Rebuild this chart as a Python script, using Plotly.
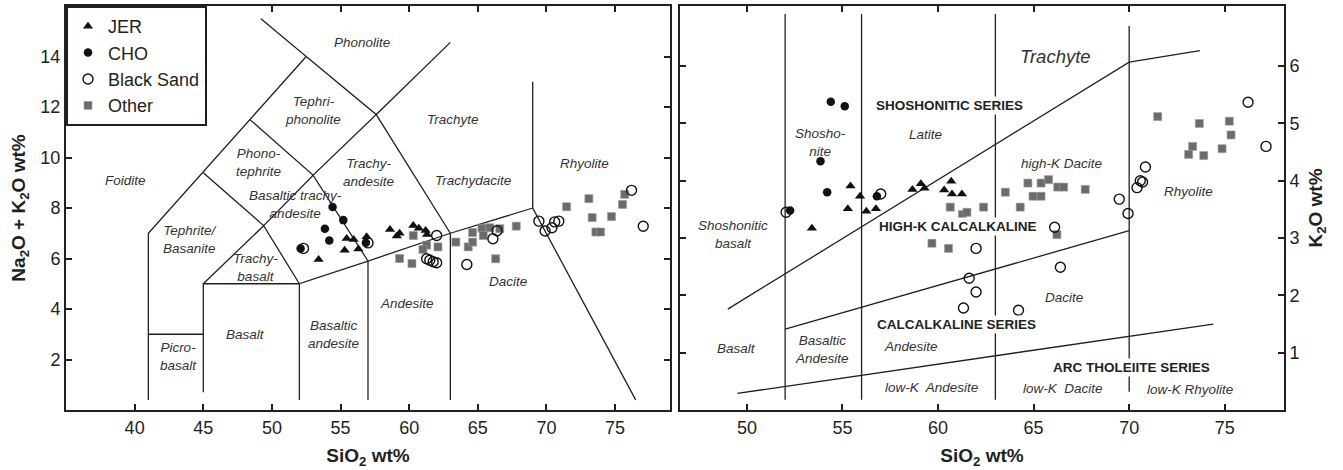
import plotly.graph_objects as go

# ---------------- DATA ----------------
# TAS diagram (left): SiO2 vs Na2O+K2O
tas_jer_sio2 = [53.4, 55.3, 55.45, 55.95, 56.3, 56.9, 58.6, 59.1, 59.3, 60.3, 60.7, 61.2, 61.3]
tas_jer_alk = [5.96, 6.33, 6.79, 6.75, 6.38, 6.86, 7.15, 6.89, 7.0, 7.31, 7.2, 7.11, 6.95]

tas_cho_sio2 = [54.42, 55.2, 53.86, 54.18, 52.09, 56.85]
tas_cho_alk = [8.04, 7.52, 7.18, 6.71, 6.4, 6.62]

tas_bs_sio2 = [52.3, 57.0, 61.27, 61.5, 61.75, 62.0, 62.0, 64.2, 66.1, 66.4, 69.45, 69.9, 70.4, 70.6, 70.9, 76.2, 77.05]
tas_bs_alk = [6.4, 6.62, 5.99, 5.93, 5.87, 5.83, 6.91, 5.76, 6.78, 7.1, 7.48, 7.09, 7.22, 7.45, 7.48, 8.7, 7.28]

tas_oth_sio2 = [59.3, 60.2, 60.3, 61.27, 61.0, 62.1, 63.4, 64.3, 64.62, 64.62, 65.3, 65.88, 65.4, 66.6,
                66.3, 67.8, 71.47, 73.09, 73.33, 74.74, 73.6, 73.94, 75.54, 75.7]
tas_oth_alk = [6.0, 5.8, 6.91, 6.53, 6.36, 6.46, 6.65, 6.46, 6.65, 7.03, 7.2, 7.22, 6.91, 7.18,
               5.99, 7.28, 8.05, 8.37, 7.62, 7.66, 7.05, 7.05, 8.14, 8.54]

# SiO2 vs K2O (right)
k_jer_sio2 = [55.42, 55.92, 55.28, 56.25, 56.75, 53.4, 58.66, 59.1, 59.29, 60.32, 60.69, 60.73, 61.25]
k_jer_k2o = [3.91, 3.73, 3.51, 3.47, 3.51, 3.17, 3.85, 3.95, 3.87, 3.84, 3.99, 3.77, 3.77]

k_cho_sio2 = [54.39, 55.12, 53.85, 54.2, 56.8, 52.26]
k_cho_k2o = [5.38, 5.3, 4.34, 3.8, 3.73, 3.48]

k_bs_sio2 = [52.05, 57.0, 61.99, 61.63, 61.99, 61.33, 64.21, 66.1, 66.4, 69.48, 69.94, 70.41, 70.58, 70.7,
             70.85, 76.22, 77.16]
k_bs_k2o = [3.45, 3.77, 2.82, 2.3, 2.06, 1.78, 1.74, 3.19, 2.49, 3.68, 3.43, 3.88, 4.0, 3.98, 4.24, 5.37, 4.6]

k_oth_sio2 = [59.68, 60.55, 60.64, 61.28, 61.51, 62.38, 63.52, 64.3, 64.7, 64.97, 65.39, 65.39, 65.78,
              66.26, 66.57, 67.7, 66.22, 71.49, 73.67, 73.32, 73.11, 73.9, 74.86, 75.24, 75.33]
k_oth_k2o = [2.91, 2.82, 3.54, 3.41, 3.45, 3.54, 3.8, 3.54, 3.96, 3.73, 3.96, 3.73, 4.02,
             3.89, 3.89, 3.85, 3.06, 5.12, 5.0, 4.6, 4.46, 4.44, 4.56, 5.04, 4.8]

# Diagram boundaries (data coordinates)
tas_lines = [
    [(41, 0.4), (41, 7), (52.5, 14), (49.2, 15.5)],
    [(41, 3), (45, 3)],
    [(45, 0.7), (45, 5), (52, 5)],
    [(45, 5), (49.4, 7.3), (52, 5)],
    [(52, 0.4), (52, 5), (57, 5.9), (63, 7), (69, 8)],
    [(57, 0.4), (57, 5.9)],
    [(63, 0.4), (63, 7)],
    [(69, 13), (69, 8), (76.5, 0.4)],
    [(45, 9.4), (49.4, 7.3), (53, 9.3), (57, 5.9)],
    [(48.4, 11.5), (53, 9.3), (57.6, 11.7), (63, 7)],
    [(52.5, 14), (57.6, 11.7), (63, 14.56)],
]
k_lines = [
    [(52, 0.18), (52, 6.91)],
    [(56, 0.18), (56, 6.91)],
    [(63, 0.18), (63, 6.91)],
    [(70, 0.32), (70, 6.7)],
    [(49.0, 1.76), (70, 6.07), (73.7, 6.27)],
    [(52, 1.41), (70, 3.13)],
    [(49.5, 0.29), (74.4, 1.5)],
]

tas_labels = [
    ("Phonolite", 56.54, 14.57), ("Tephri-<br>phonolite", 53.0, 11.85), ("Phono-<br>tephrite", 49.0, 9.8),
    ("Foidite", 39.3, 9.07), ("Basaltic trachy-<br>andesite", 51.75, 8.14), ("Tephrite/<br>Basanite", 44.03, 6.75),
    ("Trachy-<br>basalt", 48.77, 5.66), ("Basalt", 48.04, 3.0), ("Picro-<br>basalt", 43.18, 2.12),
    ("Basaltic<br>andesite", 54.45, 3.0), ("Andesite", 59.81, 4.21), ("Dacite", 67.17, 5.07),
    ("Trachy-<br>andesite", 57.02, 9.39), ("Trachyte", 63.21, 11.52), ("Trachydacite", 64.67, 9.1),
    ("Rhyolite", 72.8, 9.77),
]
k_labels = [
    ("Shosho-<br>nite", 53.83, 4.66), ("Latite", 59.33, 4.8), ("high-K Dacite", 66.48, 4.31),
    ("Rhyolite", 73.11, 3.82), ("Shoshonitic<br>basalt", 49.29, 3.06), ("Dacite", 66.57, 1.97),
    ("Basalt", 49.47, 1.08), ("Basaltic<br>Andesite", 53.95, 1.06), ("Andesite", 58.58, 1.11),
    ("low-K  Andesite", 59.64, 0.39), ("low-K  Dacite", 66.52, 0.38), ("low-K Rhyolite", 73.16, 0.36),
]
k_series = [
    ("SHOSHONITIC SERIES", 60.58, 5.31), ("HIGH-K CALCALKALINE", 61.02, 3.2),
    ("CALCALKALINE SERIES", 60.98, 1.5), ("ARC THOLEIITE SERIES", 70.11, 0.74),
]

# ---------------- FIGURE ----------------
FONT = "Liberation Sans, Arial, sans-serif"
INK = "#231f20"
W, H = 1343, 470
ML, MR, MT, MB = 66, 59, 6, 60
PW = W - ML - MR

fig = go.Figure()


def seg_xy(lines):
    xs, ys = [], []
    for ln in lines:
        for p in ln:
            xs.append(p[0]); ys.append(p[1])
        xs.append(None); ys.append(None)
    return xs, ys


for lines, xa, ya in [(tas_lines, "x", "y"), (k_lines, "x2", "y2")]:
    lx, ly = seg_xy(lines)
    fig.add_trace(go.Scatter(x=lx, y=ly, mode="lines", line=dict(color=INK, width=1.3),
                             xaxis=xa, yaxis=ya, showlegend=False, hoverinfo="skip"))

styles = {
    "JER": dict(symbol="triangle-up", size=9, color="#111111", line=dict(width=0)),
    "CHO": dict(symbol="circle", size=8.5, color="#111111", line=dict(width=0)),
    "Black Sand": dict(symbol="circle-open", size=10, color="#111111", line=dict(width=1.4)),
    "Other": dict(symbol="square", size=8, color="#6b6b6b", line=dict(width=0.6, color="#9a9a9a")),
}
ranks = {"JER": 1, "CHO": 2, "Black Sand": 3, "Other": 4}
draw_order = [
    ("Other", tas_oth_sio2, tas_oth_alk, k_oth_sio2, k_oth_k2o),
    ("Black Sand", tas_bs_sio2, tas_bs_alk, k_bs_sio2, k_bs_k2o),
    ("JER", tas_jer_sio2, tas_jer_alk, k_jer_sio2, k_jer_k2o),
    ("CHO", tas_cho_sio2, tas_cho_alk, k_cho_sio2, k_cho_k2o),
]
for name, x1, y1, x2, y2 in draw_order:
    fig.add_trace(go.Scatter(x=x1, y=y1, mode="markers", name=name, marker=styles[name],
                             xaxis="x", yaxis="y", legendgroup=name, legendrank=ranks[name]))
    fig.add_trace(go.Scatter(x=x2, y=y2, mode="markers", name=name, marker=styles[name],
                             xaxis="x2", yaxis="y2", legendgroup=name, showlegend=False))

ann = []
for t, x, y in tas_labels:
    ann.append(dict(text=t, x=x, y=y, xref="x", yref="y", showarrow=False,
                    font=dict(family=FONT, size=13.5, color="#333333", style="italic")))
for t, x, y in k_labels:
    ann.append(dict(text=t, x=x, y=y, xref="x2", yref="y2", showarrow=False,
                    font=dict(family=FONT, size=13.5, color="#333333", style="italic")))
ann.append(dict(text="Trachyte", x=66.13, y=6.17, xref="x2", yref="y2", showarrow=False,
                font=dict(family=FONT, size=18.5, color="#333333", style="italic")))
for t, x, y in k_series:
    ann.append(dict(text="<b>" + t + "</b>", x=x, y=y, xref="x2", yref="y2", showarrow=False,
                    bgcolor="white", borderpad=1,
                    font=dict(family=FONT, size=13.5, color="#222222")))
fig.update_layout(annotations=ann)

axis_common = dict(showline=True, linecolor=INK, linewidth=2, mirror="ticks", ticks="inside",
                   ticklen=6, tickwidth=2, tickcolor=INK, showgrid=False, zeroline=False,
                   automargin=False, tickfont=dict(family=FONT, size=18, color=INK))
title_font = dict(family=FONT, size=19, color=INK)
fig.update_layout(
    width=W, height=H, margin=dict(l=ML, r=MR, t=MT, b=MB, autoexpand=False),
    paper_bgcolor="white", plot_bgcolor="white",
    xaxis=dict(domain=[0, (670 - ML) / PW], range=[35, 79], tickvals=[40, 45, 50, 55, 60, 65, 70, 75],
               anchor="y",
               title=dict(text="<b>SiO<sub>2</sub> wt%</b>", standoff=12, font=title_font), **axis_common),
    yaxis=dict(domain=[0, 1], range=[0, 16], tickvals=[2, 4, 6, 8, 10, 12, 14], anchor="x",
               title=dict(text="<b>Na<sub>2</sub>O + K<sub>2</sub>O wt%</b>", standoff=10, font=title_font),
               **axis_common),
    xaxis2=dict(domain=[(680 - ML) / PW, 1], range=[46.5, 78.1], tickvals=[50, 55, 60, 65, 70, 75],
                anchor="y2",
                title=dict(text="<b>SiO<sub>2</sub> wt%</b>", standoff=12, font=title_font), **axis_common),
    yaxis2=dict(domain=[0, 1], range=[0, 7.05], tickvals=[1, 2, 3, 4, 5, 6], anchor="x2", side="right",
                title=dict(text="<b>K<sub>2</sub>O wt%</b>", standoff=10, font=title_font), **axis_common),
    legend=dict(x=0, y=1, xanchor="left", yanchor="top", bgcolor="white",
                bordercolor=INK, borderwidth=2, font=dict(family=FONT, size=18, color=INK),
                tracegroupgap=0, itemsizing="trace"),
    showlegend=True,
)

fig.write_html("out.html", config={"displayModeBar": False},
               post_script="document.body.style.margin='0';document.body.style.overflow='hidden';")
